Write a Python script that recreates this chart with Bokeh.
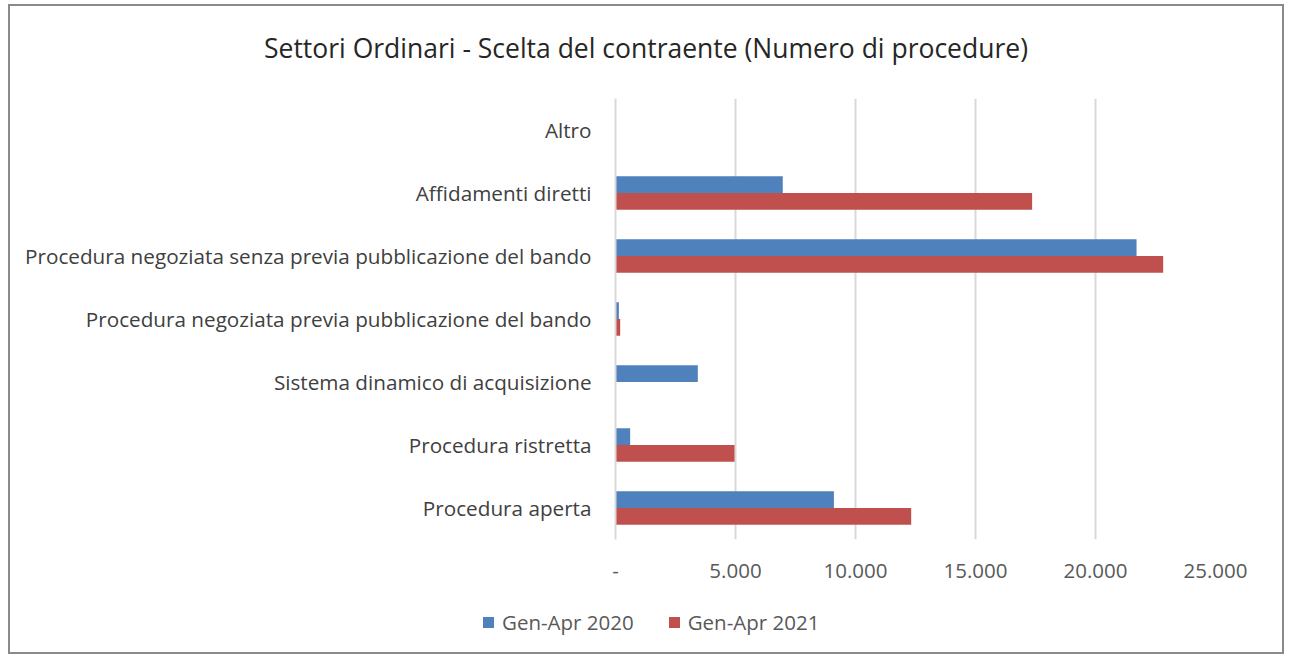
from bokeh.plotting import figure
from bokeh.layouts import column
from bokeh.models import Range1d, FactorRange, FixedTicker, ColumnDataSource, Div
from bokeh.transform import dodge
from bokeh.embed import file_html
from bokeh.resources import INLINE

title_text = "Settori Ordinari - Scelta del contraente (Numero di procedure)"
categories = [
    "Procedura aperta",
    "Procedura ristretta",
    "Sistema dinamico di acquisizione",
    "Procedura negoziata previa pubblicazione del bando",
    "Procedura negoziata senza previa pubblicazione del bando",
    "Affidamenti diretti",
    "Altro",
]
values_2020 = [9100, 610, 3430, 140, 21710, 6970, 0]
values_2021 = [12320, 4960, 0, 195, 22820, 17360, 0]
series_names = ["Gen-Apr 2020", "Gen-Apr 2021"]
x_ticks = [0, 5000, 10000, 15000, 20000, 25000]
x_tick_labels = ["-", "5.000", "10.000", "15.000", "20.000", "25.000"]

BLUE = "#4F81BD"
RED = "#C0504D"
FONT = "Open Sans"

src = ColumnDataSource(dict(cat=categories, v20=values_2020, v21=values_2021))

W = 1272

title_div = Div(
    text=(
        '<div style="height:37px;line-height:37px;margin-top:24px;text-align:center;'
        f"width:{W}px;font-family:'Open Sans';font-size:26.5px;color:#262626;"
        f'white-space:nowrap">{title_text}</div>'
    ),
    width=W, height=62, margin=0,
)

p = figure(
    width=W, height=522,
    y_range=FactorRange(*categories, range_padding=0),
    x_range=Range1d(0, 25000),
    output_backend="svg", toolbar_location=None,
    min_border_left=605, min_border_right=67,
    min_border_top=30, min_border_bottom=51,
)

r20 = p.hbar(y=dodge("cat", 0.132, range=p.y_range), right="v20", height=0.264,
             source=src, color=BLUE, line_color=None)
r21 = p.hbar(y=dodge("cat", -0.132, range=p.y_range), right="v21", height=0.264,
             source=src, color=RED, line_color=None)

p.outline_line_color = None
p.ygrid.grid_line_color = None
p.xgrid.grid_line_color = "#d9d9d9"
p.xgrid.grid_line_width = 2
p.xgrid.ticker = FixedTicker(ticks=x_ticks)

p.xaxis.ticker = FixedTicker(ticks=x_ticks)
p.xaxis.major_label_overrides = {t: l for t, l in zip(x_ticks, x_tick_labels)}
p.xaxis.axis_line_color = None
p.xaxis.major_tick_line_color = None
p.xaxis.minor_tick_line_color = None
p.xaxis.major_label_standoff = 18
p.xaxis.major_label_text_font = FONT
p.xaxis.major_label_text_font_size = "20.5px"
p.xaxis.major_label_text_color = "#595959"

p.yaxis.axis_line_color = "#d9d9d9"
p.yaxis.axis_line_width = 2
p.yaxis.major_tick_line_color = None
p.yaxis.minor_tick_line_color = None
p.yaxis.major_label_standoff = 18
p.yaxis.major_label_text_font = FONT
p.yaxis.major_label_text_font_size = "20.7px"
p.yaxis.major_label_text_color = "#404040"

# legend row (HTML), built from the series names and colours
items_html = "".join(
    f'<span style="display:inline-block;width:11px;height:11px;background:{c};'
    f'margin-right:8px"></span><span style="margin-right:35px">{name}</span>'
    for name, c in zip(series_names, [BLUE, RED])
)
legend_div = Div(
    text=(
        '<div style="display:flex;align-items:center;height:25px;margin-top:20px;'
        "padding-left:473px;font-family:'Open Sans';font-size:20.5px;color:#595959;"
        f'white-space:nowrap">{items_html}</div>'
    ),
    width=W, height=62, margin=0,
)

layout = column(title_div, p, legend_div, spacing=0)
layout.styles = {"border": "2px solid #8a8a8a",
                 "margin-left": "8px", "margin-top": "4px"}

open("out.html", "w").write(file_html(layout, INLINE))
